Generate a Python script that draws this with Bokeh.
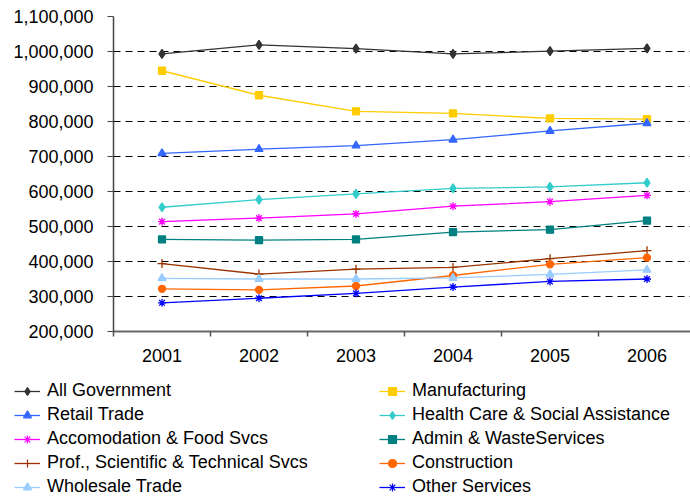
from bokeh.plotting import figure
from bokeh.models import Range1d, FixedTicker, NumeralTickFormatter, Legend, LegendItem
from bokeh.embed import file_html
from bokeh.resources import INLINE

years = [2001, 2002, 2003, 2004, 2005, 2006]
year_labels = ["2001", "2002", "2003", "2004", "2005", "2006"]
y_ticks = [200000, 300000, 400000, 500000, 600000, 700000, 800000, 900000, 1000000, 1100000]

all_government = [993000, 1019000, 1008000, 993000, 1001000, 1009000]
manufacturing = [945000, 875000, 829000, 823000, 809000, 807000]
retail_trade = [709000, 721000, 731000, 748000, 773000, 795000]
health_care = [555000, 577000, 593000, 609000, 613000, 625000]
accomodation = [514000, 524000, 536000, 558000, 571000, 589000]
admin_waste = [463000, 461000, 463000, 484000, 491000, 517000]
prof_scientific = [394000, 364000, 378000, 383000, 408000, 431000]
construction = [322000, 319000, 330000, 360000, 392000, 411000]
wholesale_trade = [352000, 350000, 350000, 353000, 363000, 376000]
other_services = [282000, 295000, 309000, 327000, 343000, 350000]

series = [
    ("All Government", all_government, "#333333", "diamond", 9),
    ("Manufacturing", manufacturing, "#FFCC00", "square", 7),
    ("Retail Trade", retail_trade, "#3366FF", "triangle", 8),
    ("Health Care & Social Assistance", health_care, "#33CCCC", "diamond", 9),
    ("Accomodation & Food Svcs", accomodation, "#FF00FF", "asterisk", 8),
    ("Admin & WasteServices", admin_waste, "#008080", "square", 7),
    ("Prof., Scientific & Technical Svcs", prof_scientific, "#993300", "cross", 9),
    ("Construction", construction, "#FF6600", "circle", 7),
    ("Wholesale Trade", wholesale_trade, "#99CCFF", "triangle", 8),
    ("Other Services", other_services, "#0000FF", "asterisk", 8),
]

FONT = "Liberation Sans"

p = figure(width=690, height=380, output_backend="svg", toolbar_location=None,
           x_range=Range1d(2000.5, 2000.5 + 577 / 97), y_range=Range1d(200000, 1100000),
           min_border_left=113, min_border_right=0, min_border_top=16, min_border_bottom=49)
p.outline_line_color = None
p.background_fill_color = "white"
p.border_fill_color = "white"

# grid
p.xgrid.grid_line_color = None
p.ygrid.grid_line_color = "black"
p.ygrid.grid_line_dash = "7 5"
p.ygrid.grid_line_width = 1

# y axis
p.yaxis.ticker = FixedTicker(ticks=y_ticks)
p.yaxis.formatter = NumeralTickFormatter(format="0,0")
p.yaxis.major_tick_out = 6
p.yaxis.major_tick_in = 0
p.yaxis.minor_tick_line_color = None
p.yaxis.major_label_standoff = 14
p.yaxis.major_label_text_font = FONT
p.yaxis.major_label_text_font_size = "18px"
p.yaxis.major_label_text_color = "black"
p.yaxis.axis_line_color = "#444444"
p.yaxis.axis_line_width = 1.5
p.yaxis.major_tick_line_color = "#444444"

# x axis: labels at centres, ticks at boundaries
p.xaxis.ticker = FixedTicker(ticks=years, minor_ticks=[2000.5 + i for i in range(7)])
p.xaxis.major_label_overrides = {y: l for y, l in zip(years, year_labels)}
p.xaxis.major_tick_out = 0
p.xaxis.major_tick_in = 0
p.xaxis.minor_tick_out = 5
p.xaxis.minor_tick_in = 0
p.xaxis.minor_tick_line_color = "#555555"
p.xaxis.minor_tick_line_width = 1.5
p.xaxis.major_label_standoff = 12
p.xaxis.major_label_text_font = FONT
p.xaxis.major_label_text_font_size = "18px"
p.xaxis.major_label_text_color = "black"
p.xaxis.axis_line_color = "#666666"
p.xaxis.axis_line_width = 2

# legend figure (its ranges exclude the data, so only the legend shows)
lf = figure(width=690, height=117, output_backend="svg", toolbar_location=None,
            x_range=Range1d(0, 1), y_range=Range1d(0, 1),
            x_axis_location=None, y_axis_location=None,
            min_border_left=0, min_border_right=0, min_border_top=0, min_border_bottom=0)
lf.grid.visible = False
lf.outline_line_color = None
lf.background_fill_color = "white"
lf.border_fill_color = "white"

leg_items = {}
for name, vals, color, marker, size in series:
    p.line(years, vals, line_color=color, line_width=1.3)
    p.scatter(years, vals, marker=marker, size=size, fill_color=color,
              line_color=color, line_width=1.3)
    lr = lf.line(years, vals, line_color=color, line_width=1.3)
    sr = lf.scatter(years, vals, marker=marker, size=size * 0.7,
                    fill_color=color, line_color=color, line_width=1.2)
    leg_items[name] = LegendItem(label=name, renderers=[lr, sr])

names = [s[0] for s in series]
ordered = [leg_items[n] for n in names[0::2] + names[1::2]]

legend = Legend(items=ordered, ncols=2, location=(14, 0),
                glyph_width=26, glyph_height=20, label_height=20, label_width=329,
                label_standoff=7, spacing=3, padding=0, margin=0,
                border_line_color=None, background_fill_alpha=0,
                label_text_font=FONT, label_text_font_size="18px",
                label_text_color="black")
lf.add_layout(legend, "center")

open("out.html", "w").write(file_html([p, lf], INLINE))
